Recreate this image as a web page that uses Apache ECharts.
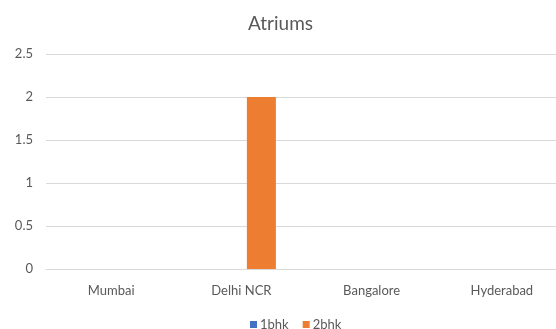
<!DOCTYPE html>
<html>
<head>
<meta charset="utf-8">
<style>
  html, body { margin: 0; padding: 0; background: #fff; overflow: hidden; }
  /* canvas is a little wider than the window; the plot area runs off the right edge */
  #chart { width: 567px; height: 329px; }
</style>
<script src="https://cdn.jsdelivr.net/npm/echarts@6/dist/echarts.min.js"></script>
</head>
<body>
<div id="chart"></div>
<script>
// Units per city, by flat type
const cities = ['Mumbai', 'Delhi NCR', 'Bangalore', 'Hyderabad'];
const oneBhk = [0, 0, 0, 0];
const twoBhk = [0, 2, 0, 0];
const yTicks = { min: 0, max: 2.5, step: 0.5 };

const FONT = 'Lato, "Open Sans", sans-serif';
const TEXT = '#595959';
const GRID = '#d9d9d9';

const chart = echarts.init(document.getElementById('chart'), null, { renderer: 'canvas' });

chart.setOption({
  animation: false,
  backgroundColor: '#ffffff',
  title: {
    text: 'Atriums',
    left: 243,
    top: 9,
    textStyle: { color: TEXT, fontFamily: FONT, fontSize: 19, fontWeight: 'normal' }
  },
  legend: {
    top: 313,
    left: 245,
    itemWidth: 7,
    itemHeight: 7,
    itemGap: 14,
    icon: 'rect',
    textStyle: { color: TEXT, fontFamily: FONT, fontSize: 13, padding: [0, 0, 0, -2] },
    data: ['1bhk', '2bhk']
  },
  grid: { left: 46, right: 0, top: 54, bottom: 60, containLabel: false },
  xAxis: {
    type: 'category',
    data: cities,
    axisLine: { lineStyle: { color: GRID, width: 1 } },
    axisTick: { show: false },
    axisLabel: { color: TEXT, fontFamily: FONT, fontSize: 13, margin: 15 }
  },
  yAxis: {
    type: 'value',
    min: yTicks.min,
    max: yTicks.max,
    interval: yTicks.step,
    axisLine: { show: false },
    axisTick: { show: false },
    splitLine: { lineStyle: { color: GRID, width: 1 } },
    axisLabel: { color: TEXT, fontFamily: FONT, fontSize: 13, margin: 13 }
  },
  series: [
    {
      name: '1bhk',
      type: 'bar',
      data: oneBhk,
      barWidth: 29,
      barGap: '38%',
      itemStyle: { color: '#4472C4' }
    },
    {
      name: '2bhk',
      type: 'bar',
      data: twoBhk,
      barWidth: 29,
      barGap: '38%',
      itemStyle: { color: '#ED7D31' }
    }
  ]
});
</script>
</body>
</html>
